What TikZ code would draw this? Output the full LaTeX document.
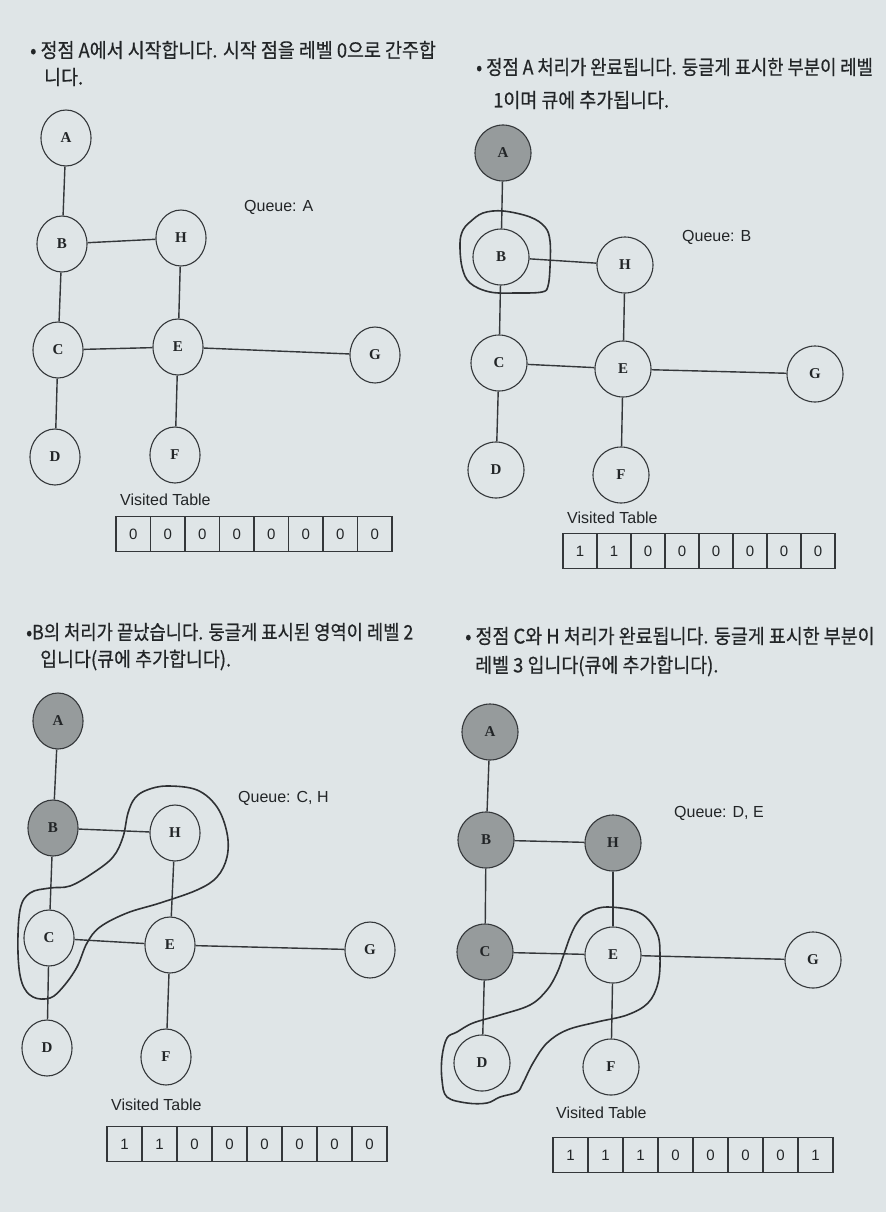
\documentclass[tikz,border=0pt]{standalone}
\usepackage{fontspec}
\setmainfont{Liberation Serif}
\newfontfamily\krfont[FakeStretch=0.92,FakeBold=0.5]{Noto Sans CJK KR}
\newfontfamily\krfontn[FakeStretch=0.885,FakeBold=0.5]{Noto Sans CJK KR}
\newfontfamily\sansfont{Liberation Sans}
\usetikzlibrary{shapes.geometric}
\definecolor{pagebg}{HTML}{DFE5E7}
\definecolor{ink}{HTML}{34373A}
\definecolor{donefill}{HTML}{969B9C}
\definecolor{txt}{HTML}{222527}
\tikzset{
  vtxa/.style={ellipse, draw=ink, line width=1.1pt, minimum width=50pt, minimum height=56pt, inner sep=0pt, text=txt, font=\bfseries\fontsize{15}{15}\selectfont},
  vtxb/.style={circle, draw=ink, line width=1.1pt, minimum size=56pt, inner sep=0pt, text=txt, font=\bfseries\fontsize{15}{15}\selectfont},
  done/.style={fill=donefill},
  edge/.style={draw=ink, line width=1.4pt},
  loopline/.style={draw=ink!90!black, line width=1.6pt},
  cell/.style={rectangle, draw=ink, line width=1.2pt, minimum height=35pt, inner sep=0pt, text=txt, font=\sansfont\fontsize{15}{15}\selectfont},
  header/.style={anchor=west, inner sep=0pt, text=txt, font=\krfont\fontsize{20}{20}\selectfont},
  headern/.style={anchor=west, inner sep=0pt, text=txt, font=\krfontn\fontsize{20}{20}\selectfont},
  label/.style={anchor=west, inner sep=0pt, text=txt, font=\sansfont\fontsize{16}{16}\selectfont}
}
\newcommand\vistable[5]{%
  \foreach \v [count=\i] in {#5} {
    \node[cell, minimum width=#4 pt] (#1\i) at ({#2+(\i-0.5)*#4}, #3) {\v};
  }%
}
\begin{document}
\begin{tikzpicture}[x=1pt,y=-1pt]
\fill[pagebg] (0,0) rectangle (886,1212);
\useasboundingbox (0,0) rectangle (886,1212);

% ---------------- headers ----------------
\node[header] (h1a) at (30,50) {• 정점 A에서 시작합니다. 시작 점을 레벨 0으로 간주합};
\node[header] (h1b) at (44,77) {니다.};
\node[headern] (h2a) at (476,67) {• 정점 A 처리가 완료됩니다. 둥글게 표시한 부분이 레벨};
\node[header] (h2b) at (493,100) {1이며 큐에 추가됩니다.};
\node[headern] (h3a) at (26,632) {•B의 처리가 끝났습니다. 둥글게 표시된 영역이 레벨 2};
\node[header] (h3b) at (40,660) {입니다(큐에 추가합니다).};
\node[header] (h4a) at (465,636) {• 정점 C와 H 처리가 완료됩니다. 둥글게 표시한 부분이};
\node[header] (h4b) at (475,666) {레벨 3 입니다(큐에 추가합니다).};

% ---------------- panel 1 ----------------
\node[vtxa] (p1A) at (66,138) {A};
\node[vtxa] (p1B) at (62,244) {B};
\node[vtxa] (p1H) at (181,238) {H};
\node[vtxa] (p1C) at (58,350) {C};
\node[vtxa] (p1E) at (178,347) {E};
\node[vtxa] (p1G) at (375,355) {G};
\node[vtxa] (p1D) at (55,457) {D};
\node[vtxa] (p1F) at (175,455) {F};
\foreach \u/\v in {A/B,B/H,B/C,H/E,C/E,C/D,E/G,E/F} \draw[edge] (p1\u) -- (p1\v);
\node[label] (q1) at (244,207) {Queue: A};
\node[label] (vt1) at (120,500) {Visited Table};
\vistable{t1c}{116}{534}{34.5}{0,0,0,0,0,0,0,0}

% ---------------- panel 2 ----------------
\node[vtxb, done] (p2A) at (503,153) {A};
\node[vtxb] (p2B) at (501,257) {B};
\node[vtxb] (p2H) at (625,265) {H};
\node[vtxb] (p2C) at (499,363) {C};
\node[vtxb] (p2E) at (623,369) {E};
\node[vtxb] (p2G) at (815,374) {G};
\node[vtxb] (p2D) at (496,470) {D};
\node[vtxb] (p2F) at (621,475) {F};
\foreach \u/\v in {A/B,B/H,B/C,H/E,C/E,C/D,E/G,E/F} \draw[edge] (p2\u) -- (p2\v);
\draw[loopline] plot[smooth cycle, tension=0.6] coordinates {
  (463,230) (470,222) (483,213) (503,211) (530,217) (545,227) (550,241)
  (550,267) (548,286) (542,292) (517,293) (490,292) (470,283) (462,267) (460,243)};
\node[label] (q2) at (682,237) {Queue: B};
\node[label] (vt2) at (567,518) {Visited Table};
\vistable{t2c}{563}{551}{34}{1,1,0,0,0,0,0,0}

% ---------------- panel 3 ----------------
\node[vtxa, done] (p3A) at (58,721) {A};
\node[vtxa, done] (p3B) at (53,828) {B};
\node[vtxa] (p3H) at (175,833) {H};
\node[vtxa] (p3C) at (49,938) {C};
\node[vtxa] (p3E) at (170,945) {E};
\node[vtxa] (p3G) at (370,950) {G};
\node[vtxa] (p3D) at (47,1048) {D};
\node[vtxa] (p3F) at (166,1057) {F};
\foreach \u/\v in {A/B,B/H,B/C,H/E,C/E,C/D,E/G,E/F} \draw[edge] (p3\u) -- (p3\v);
\draw[loopline] plot[smooth cycle, tension=0.6] coordinates {
  (147,790) (167,786) (197,790) (217,807) (227,833) (227,857) (217,877)
  (197,890) (160,903) (127,913) (100,927) (87,943) (77,967) (63,987)
  (50,998) (33,997) (22,983) (18,953) (20,910) (30,893) (50,888) (70,886)
  (93,873) (113,857) (123,837) (128,813) (135,798)};
\node[label] (q3) at (238,798) {Queue: C, H};
\node[label] (vt3) at (111,1105) {Visited Table};
\vistable{t3c}{107}{1144}{35}{1,1,0,0,0,0,0,0}

% ---------------- panel 4 ----------------
\node[vtxb, done] (p4A) at (490,732) {A};
\node[vtxb, done] (p4B) at (486,840) {B};
\node[vtxb, done] (p4H) at (613,843) {H};
\node[vtxb, done] (p4C) at (485,952) {C};
\node[vtxb] (p4E) at (613,955) {E};
\node[vtxb] (p4G) at (813,960) {G};
\node[vtxb] (p4D) at (482,1063) {D};
\node[vtxb] (p4F) at (611,1067) {F};
\foreach \u/\v in {A/B,B/H,B/C,H/E,C/E,C/D,E/G,E/F} \draw[edge] (p4\u) -- (p4\v);
\draw[loopline] plot[smooth cycle, tension=0.6] coordinates {
  (587,913) (607,907) (640,913) (657,933) (660,957) (658,983) (648,1003)
  (627,1015) (597,1022) (567,1030) (547,1043) (533,1063) (523,1083)
  (517,1092) (500,1097) (487,1103) (467,1103) (447,1097) (442,1080)
  (442,1057) (447,1038) (457,1032) (473,1023) (500,1015) (530,1005)
  (547,990) (557,973) (563,957) (570,937) (577,923)};
\node[label] (q4) at (674,813) {Queue: D, E};
\node[label] (vt4) at (556,1113) {Visited Table};
\vistable{t4c}{553}{1155}{35}{1,1,1,0,0,0,0,1}
\end{tikzpicture}
\end{document}
